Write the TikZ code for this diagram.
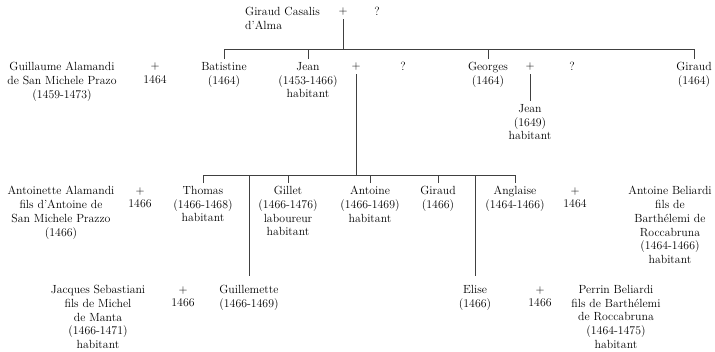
\documentclass[tikz,border=0pt]{standalone}
\usepackage{tikz}
\usetikzlibrary{calc}
\tikzset{
  person/.style={align=center, anchor=north, inner xsep=0pt, inner ysep=3pt,
    font=\fontsize{11.8}{13.8}\selectfont},
  link/.style={black!75, line width=0.6pt},
  drop/.style={link, shorten >=6pt}
}

\begin{document}
\begin{tikzpicture}[x=1pt,y=-1pt]
\useasboundingbox (0,0) rectangle (715,351);

% Top couple
\node[person, anchor=north west, align=left] (casalis) at (245,4) {Giraud Casalis\\d'Alma};
\node[person] (m0) at (343,5) {+};
\node[person] (u0) at (377,4) {?};

% First generation
\node[person] (guillaume) at (62,59) {Guillaume Alamandi\\de San Michele Prazo\\(1459-1473)};
\node[person] (m1) at (155,60) {+\\1464};
\node[person] (batistine) at (224,59) {Batistine\\(1464)};
\node[person] (jean) at (308,59) {Jean\\(1453-1466)\\habitant};
\node[person] (m2) at (356,60) {+};
\node[person] (u2) at (403,59) {?};
\node[person] (georges) at (488,59) {Georges\\(1464)};
\node[person] (m3) at (530,60) {+};
\node[person] (u3) at (572,59) {?};
\node[person] (giraud) at (694,59) {Giraud\\(1464)};
\node[person] (jeanb) at (530,101) {Jean\\(1649)\\habitant};

% Second generation
\node[person] (antoinette) at (61,183) {Antoinette Alamandi\\fils d'Antoine de\\San Michele Prazzo\\(1466)};
\node[person] (m4) at (140,184) {+\\1466};
\node[person] (thomas) at (203,183) {Thomas\\(1466-1468)\\habitant};
\node[person] (gillet) at (288,183) {Gillet\\(1466-1476)\\laboureur\\habitant};
\node[person] (antoine) at (370,183) {Antoine\\(1466-1469)\\habitant};
\node[person] (giraudb) at (438,183) {Giraud\\(1466)};
\node[person] (anglaise) at (515,183) {Anglaise\\(1464-1466)};
\node[person] (m5) at (575,184) {+\\1464};
\node[person] (beliardi) at (670,183) {Antoine Beliardi\\fils de\\Barth\'elemi de\\Roccabruna\\(1464-1466)\\habitant};

% Lower row
\node[person] (jacques) at (98,282) {Jacques Sebastiani\\fils de Michel\\de Manta\\(1466-1471)\\habitant};
\node[person] (m6) at (183,283) {+\\1466};
\node[person] (guillemette) at (249,282) {Guillemette\\(1466-1469)};
\node[person] (elise) at (475,282) {Elise\\(1466)};
\node[person] (m7) at (540,283) {+\\1466};
\node[person] (perrin) at (616,282) {Perrin Beliardi\\fils de Barth\'elemi\\de Roccabruna\\(1464-1475)\\habitant};

% Lines of descent
\coordinate (bar0) at (343,49);
\coordinate (bar1) at (356,175);
\draw[link] (m0) -- (bar0);
\draw[link] (batistine.north |- bar0) -- (giraud.north |- bar0);
\foreach \c in {batistine,jean,georges,giraud}
  \draw[link] (\c.north) -- (\c.north |- bar0);

\draw[link] (m2) -- (bar1);
\draw[link] (thomas.north |- bar1) -- (anglaise.north |- bar1);
\foreach \c in {thomas,gillet,antoine,giraudb,anglaise}
  \draw[link] (\c.north) -- (\c.north |- bar1);
\draw[drop] (guillemette.north |- bar1) -- (guillemette.north);
\draw[drop] (elise.north |- bar1) -- (elise.north);

\draw[link] (m3) -- (jeanb);
\end{tikzpicture}
\end{document}
